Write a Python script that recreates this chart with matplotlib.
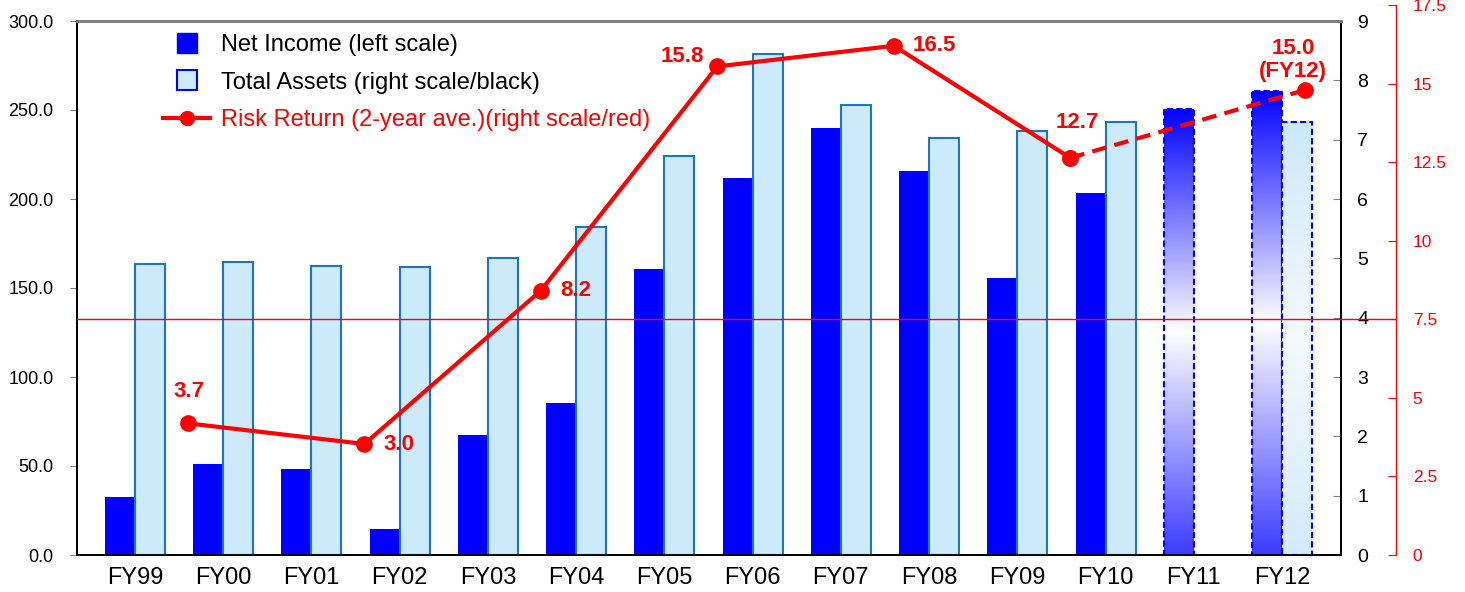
import numpy as np
import matplotlib
matplotlib.use('Agg')
import matplotlib.pyplot as plt
from matplotlib.lines import Line2D
from matplotlib.colors import LinearSegmentedColormap
from matplotlib.ticker import FormatStrFormatter

plt.rcParams['font.family'] = ['Liberation Sans', 'DejaVu Sans']

years = ['FY99', 'FY00', 'FY01', 'FY02', 'FY03', 'FY04', 'FY05',
         'FY06', 'FY07', 'FY08', 'FY09', 'FY10', 'FY11', 'FY12']
net_income = [32.7, 51.1, 48.3, 14.6, 67.4, 85.4, 160.7,
              211.8, 239.9, 215.7, 155.6, 203.4, 250.6, 260.7]
total_assets = [4.90, 4.94, 4.87, 4.85, 5.00, 5.53, 6.72,
                8.45, 7.58, 7.03, 7.15, 7.29, np.nan, 7.30]
forecast_years = ['FY11', 'FY12']

risk_years = ['FY00', 'FY02', 'FY04', 'FY06', 'FY08', 'FY10', 'FY12']
risk_return = [3.7, 3.0, 8.2, 15.8, 16.5, 12.7, 15.0]

ni_color = '#0000ff'
ta_color = '#cdeafb'
ta_edge = '#1a75c4'


def gradient_fill(axis, rect, stops):
    cmap = LinearSegmentedColormap.from_list('grad', stops)
    grad = np.linspace(0, 1, 256).reshape(-1, 1)
    x0, y0 = rect.get_x(), rect.get_y()
    im = axis.imshow(grad, cmap=cmap, origin='lower', aspect='auto',
                     extent=[x0, x0 + rect.get_width(), y0, y0 + rect.get_height()],
                     zorder=1)
    im.set_clip_path(rect)


fig = plt.figure(figsize=(14.65, 5.92), dpi=100)
W, H = 1465.0, 592.0
left, right, bottom, top = 77 / W, 1340.7 / W, 1 - 555 / H, 1 - 21 / H

ax = fig.add_axes([left, bottom, right - left, top - bottom])
ax2 = ax.twinx()

x = np.arange(len(years))
bw = 0.34
ni_bars = ax.bar(x - bw / 2, net_income, bw, color=ni_color, linewidth=0, zorder=2)
ta_bars = ax2.bar(x + bw / 2, total_assets, bw, color=ta_color,
                  edgecolor=ta_edge, linewidth=1.5, zorder=2)

# forecast years: gradient fill with dashed outline
for yr in forecast_years:
    i = years.index(yr)
    r = ni_bars[i]
    r.set_facecolor('none')
    r.set_edgecolor(ni_color)
    r.set_linestyle((0, (3, 1.5)))
    r.set_linewidth(1.5)
    gradient_fill(ax, r, [(0, '#3c3cff'), (0.5, '#ffffff'), (1, '#0000ff')])
    r2 = ta_bars[i]
    if not np.isnan(total_assets[i]):
        r2.set_facecolor('none')
        r2.set_edgecolor(ni_color)
        r2.set_linestyle((0, (3, 1.5)))
        r2.set_linewidth(1.5)
        gradient_fill(ax2, r2, [(0, '#d2ebfb'), (0.5, '#f4faff'), (1, '#cce8fb')])

ax.set_xlim(-0.657, 13.665)
ax.set_ylim(0, 300)
ax2.set_ylim(0, 9)
ax.set_yticks(np.arange(0, 301, 50))
ax.yaxis.set_major_formatter(FormatStrFormatter('%.1f'))
ax2.set_yticks(np.arange(0, 10, 1))
ax.set_xticks(x)
ax.set_xticklabels(years, fontsize=17)
ax.tick_params(axis='x', length=0, pad=9)
ax.tick_params(axis='y', direction='out', length=5, color='#808080', labelsize=13, pad=12)
ax2.tick_params(axis='y', direction='in', length=6, color='#808080', labelsize=14, pad=12)

for a in (ax, ax2):
    a.spines['top'].set_color('#808080')
    a.spines['top'].set_linewidth(2)
    a.spines['left'].set_linewidth(1.3)
    a.spines['bottom'].set_linewidth(1.3)
    a.spines['right'].set_linewidth(1.3)

# red scale axis (taller than the plot area)
red_top = 1 - 5 / H
ax_red = fig.add_axes([left, bottom, 1396 / W - left, red_top - bottom])
ax_red.patch.set_visible(False)
for s in ('left', 'top', 'bottom'):
    ax_red.spines[s].set_visible(False)
ax_red.spines['right'].set_color('red')
ax_red.spines['right'].set_linewidth(1.0)
ax_red.set_xlim(0, 1)
ax_red.set_ylim(0, 17.5)
ax_red.set_xticks([])
ax_red.yaxis.tick_right()
ax_red.set_yticks(np.arange(0, 17.6, 2.5))
ax_red.set_yticklabels(['0', '2.5', '5', '7.5', '10', '12.5', '15', '17.5'])
ax_red.tick_params(axis='y', direction='in', length=6, color='red',
                   labelcolor='red', labelsize=12.5, pad=12)
ax_red.axhline(7.5, color='red', lw=1.0)

# risk return line
ax_line = fig.add_axes([left, bottom, right - left, top - bottom])
ax_line.patch.set_visible(False)
ax_line.axis('off')
ax_line.set_xlim(ax.get_xlim())
ax_line.set_ylim(-0.763, 17.34)

rx = np.array([years.index(y) - 0.4 for y in risk_years], dtype=float)
rx[-1] = years.index(risk_years[-1]) + 0.26
ax_line.plot(rx[:-1], risk_return[:-1], color='red', lw=3, marker='o',
             markersize=11, solid_capstyle='round')
ax_line.plot(rx[-2:], risk_return[-2:], color='red', lw=3, dashes=(3.5, 2),
             marker='o', markersize=11)

label_offsets = [(1, 32), (35, -1), (35, 0), (-35, 10), (41, 0), (7, 35), (-12, 30)]
for xi, v, yr, off in zip(rx, risk_return, risk_years, label_offsets):
    txt = '{:.1f}'.format(v)
    if yr == risk_years[-1]:
        txt += '\n({})'.format(yr)
    ax_line.annotate(txt, (xi, v), xytext=off, textcoords='offset pixels',
                     ha='center', va='center', color='red', fontsize=16,
                     fontweight='bold', linespacing=1.15)

handles = [
    Line2D([], [], ls='none', marker='s', markersize=15,
           markerfacecolor=ni_color, markeredgecolor=ni_color),
    Line2D([], [], ls='none', marker='s', markersize=15,
           markerfacecolor=ta_color, markeredgecolor=ni_color, markeredgewidth=1.5),
    Line2D([], [], color='red', lw=3, marker='o', markersize=10),
]
labels = ['Net Income (left scale)', 'Total Assets (right scale/black)',
          'Risk Return (2-year ave.)(right scale/red)']
leg = ax_line.legend(handles, labels, loc='upper left',
                     bbox_to_anchor=(163 / W, 1 - 34 / H), bbox_transform=fig.transFigure,
                     frameon=False, fontsize=17, handlelength=2.0, handletextpad=0.45,
                     labelspacing=0.66, borderpad=0, borderaxespad=0, numpoints=1)
leg.get_texts()[2].set_color('red')

fig.savefig('out.png', dpi=100, facecolor='white')
